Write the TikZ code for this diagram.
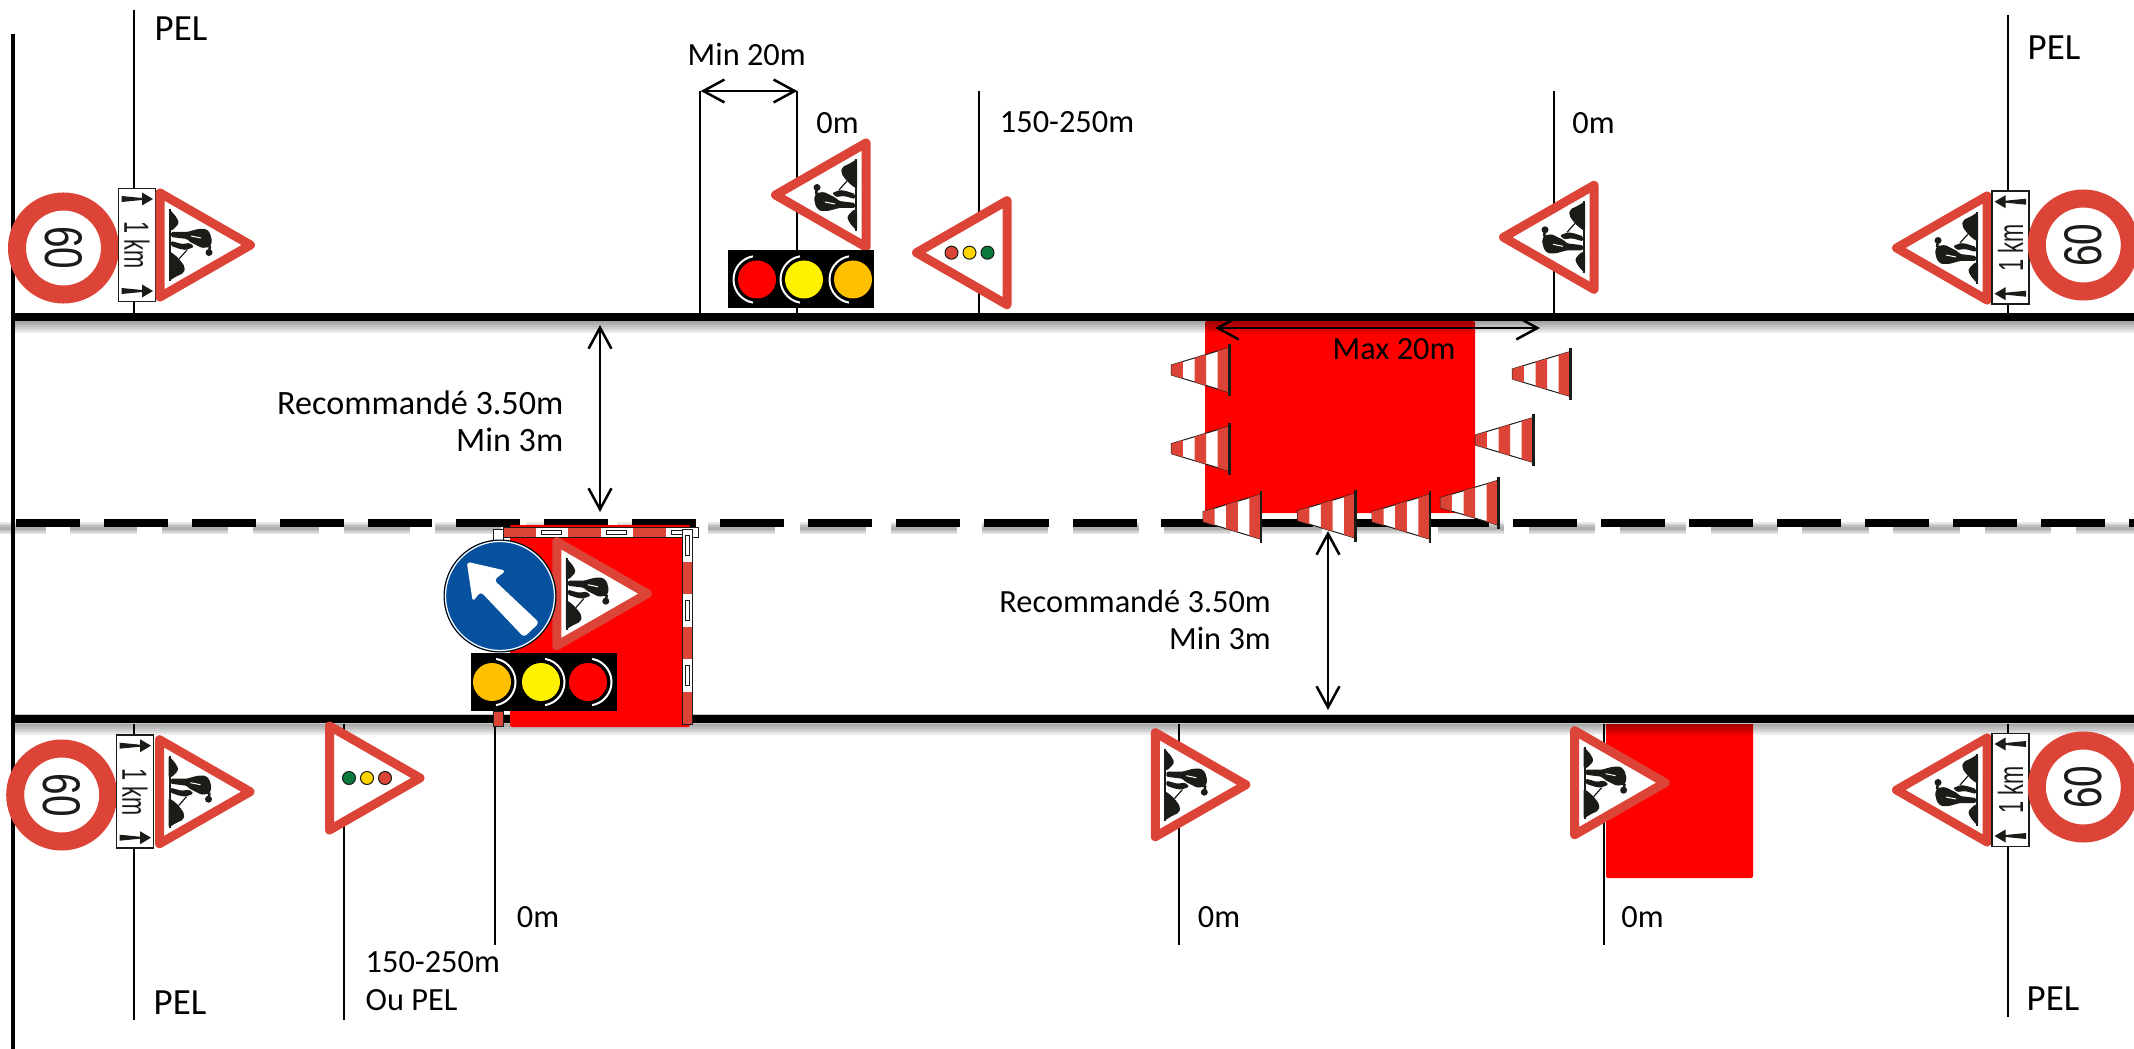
\documentclass[tikz,border=0pt]{standalone}
\usepackage{fontspec}
\setmainfont{Carlito}
\newfontfamily\roadfont{Liberation Sans}
\usetikzlibrary{arrows.meta}
\definecolor{signred}{HTML}{DC4437}
\definecolor{signblue}{HTML}{07519E}
\definecolor{ink}{HTML}{1A1C18}
\definecolor{amberlight}{HTML}{FFC000}
\definecolor{dotgreen}{HTML}{0A7A3C}
\definecolor{dotyellow}{HTML}{FFD500}
\def\px{0.2845pt}
\tikzset{
  lbl/.style={inner sep=0pt,font=\fontsize{9.2}{10.6}\selectfont},
  lblwide/.style={inner sep=0pt,font=\fontsize{9.7}{10.6}\selectfont},
  lblpel/.style={inner sep=0pt,font=\fontsize{10.5}{12}\selectfont},
  postline/.style={line width=2*\px,black},
  roadline/.style={line width=8*\px,black},
  dimarrow/.style={<->,>={Straight Barb[length=6pt,width=6.5pt]},line width=2.5*\px,black},
  signtri/.style={draw=signred,fill=white,line width=9*\px,line join=round},
  workarea/.style={fill=red,rounded corners=2*\px},
  pics/worksign/.style={code={
    \draw[signtri] (0,-52) -- (90.5,0) -- (0,52) -- cycle;
    \fill[ink] (9,-36) rectangle (11,36);
    \fill[ink,rounded corners=.6pt] (9,-36) -- (13,-32) -- (17,-27) -- (19,-22) -- (15,-17) -- (11,-14) -- (9,-14) -- cycle;
    \fill[ink,rounded corners=.6pt] (9,6) -- (15,10) -- (20,15) -- (25,22) -- (24,28) -- (17,31) -- (9,36) -- cycle;
    \fill[ink,rounded corners=.4pt] (11,-13) -- (27,-13) -- (38,-16) -- (46,-16) -- (50,-12) -- (52,-4) -- (50,2) -- (42,3) -- (36,0) -- (30,-3) -- (27,-6) -- (11,-8) -- cycle;
    \fill[ink,rounded corners=.4pt] (11,-4) -- (22,-1) -- (30,-2) -- (34,2) -- (26,5) -- (20,4) -- (11,1) -- cycle;
    \draw[white,line width=1*\px] (31,-9) -- (41,-7);
    \draw[ink,line width=1.2*\px] (27,5) -- (19,14);
    \draw[ink,line width=2.5*\px] (50,1) -- (49,7);
    \fill[ink] (49,7.5) circle[radius=3.5];
  }},
  pics/lightsign/.style={code={
    \draw[signtri] (0,-52) -- (90.5,0) -- (0,52) -- cycle;
    \foreach \dotx/\dotcol in {19.5/dotgreen,37.5/dotyellow,55.5/signred}
      \draw[fill=\dotcol,draw=ink,line width=1*\px] (\dotx,0) circle[radius=6.5];
  }},
  pics/speedsign/.style={code={
    \draw[draw=signred,fill=white,line width=18*\px] (0,0) circle[radius=46.5];
    \node[inner sep=0pt,rotate=-90,text=ink,font=\roadfont\fontsize{11}{11}\selectfont,transform shape] (-num) at (0,0) {\scalebox{1}[1.37]{60}};
  }},
  pics/kmpanel/.style={code={
    \draw[fill=white,draw=ink,line width=1.5*\px] (-18.5,-56.5) rectangle (18.5,56.5);
    \node[inner sep=0pt,rotate=-90,text=ink,font=\roadfont\fontsize{6.2}{6.2}\selectfont,transform shape] (-km) at (0,0) {\scalebox{1}[1.6]{1 km}};
    \foreach \arry in {-46,46}
      \fill[ink] (-15.5,\arry-3) -- (5,\arry-1) -- (5,\arry-6.5) -- (16,\arry) -- (5,\arry+6.5) -- (5,\arry+1) -- (-15.5,\arry+3) -- cycle;
  }},
  pics/lightbar/.style={code={
    \fill[black] (-73,-29) rectangle (73,29);
    \foreach \lampx/\lampcol in {-44/red,3/yellow,52/amberlight}{
      \fill[\lampcol] (\lampx,0) circle[radius=19];
      \draw[white,line width=2*\px] (\lampx,0) ++(100:23.5) arc[start angle=100,end angle=260,radius=23.5];
    }
  }},
  pics/cone/.style={code={
    \draw[fill=white,draw=ink,line width=1*\px] (-58,-5) -- (0,-22.5) -- (0,22.5) -- (-58,5) -- cycle;
    \fill[signred] (-58,-5) -- (-46.4,-8.5) -- (-46.4,8.5) -- (-58,5) -- cycle;
    \fill[signred] (-34.8,-12) -- (-23.2,-15.5) -- (-23.2,15.5) -- (-34.8,12) -- cycle;
    \fill[signred] (-11.6,-19) -- (0,-22.5) -- (0,22.5) -- (-11.6,19) -- cycle;
    \draw[ink,line width=2.5*\px] (0,-26) -- (0,26);
  }},
  pics/barrierstrip/.style={code={
    \foreach \cell/\cellcol in {0/signred,1/white,2/signred,3/white,4/signred,5/white}
      \fill[\cellcol] (\cell*32.5,-5) rectangle ++(32.5,10);
    \foreach \cell in {1,3,5}
      \draw[ink,line width=.8*\px] (\cell*32.5+6,-2) rectangle ++(20,4);
    \draw[ink,line width=1*\px] (0,-5) rectangle (195,5);
  }},
}
\begin{document}
\begin{tikzpicture}[x=0.01cm,y=-0.01cm]
\useasboundingbox (0,0) rectangle (2134,1049);
\clip (0,0) rectangle (2134,1049);

\fill[workarea] (1205,321) rectangle (1475,513);
\fill[workarea] (1606,715) rectangle (1753,878);

\foreach \name/\postx/\ya/\yb in {pelA/134/10/313,minA/700/91/313,zeroA/797/91/313,warnA/979/91/313,zeroB/1554/91/313,pelB/2008/15/313,pelC/134/723/1020,warnB/344/723/1020,zeroC/495/723/945,zeroD/1179/723/945,zeroE/1604/723/945,pelD/2008/715/1017}{
  \coordinate (\name a) at (\postx,\ya);
  \coordinate (\name b) at (\postx,\yb);
  \draw[postline] (\name a) -- (\name b);
}

\foreach \i in {1,...,6}{
  \fill[black,opacity=.07] (15,321) rectangle (2134,321+\i*2);
  \fill[black,opacity=.07] (15,723) rectangle (2134,723+\i*2);
}
\draw[gray!45,line width=10*\px] (15,719) -- (2134,719);
\foreach \w in {3,6,9,12}
  \draw[black,opacity=.09,line width=\w*\px,dash pattern=on 18.89pt off 7.03pt] (-20.8,528) -- (2134,528);
\coordinate (wallT) at (13,34);
\coordinate (wallB) at (13,1049);
\draw[line width=4*\px] (wallT) -- (wallB);
\coordinate (roadTa) at (13,317);
\coordinate (roadTb) at (2134,317);
\draw[roadline] (roadTa) -- (roadTb);
\coordinate (roadMa) at (16,523);
\coordinate (roadMb) at (2134,523);
\draw[roadline,dash pattern=on 18.208pt off 6.828pt] (roadMa) -- (roadMb);
\coordinate (roadBa) at (13,719);
\coordinate (roadBb) at (2134,719);
\draw[roadline] (roadBa) -- (roadBb);

\fill[signred] (493.3,711) rectangle (503.3,726);
\draw[ink,line width=1*\px] (493.3,711) rectangle (503.3,726);
\draw[fill=white,draw=ink,line width=1*\px] (493.3,529) rectangle (503.3,542);
\draw[fill=white,draw=ink,line width=1*\px] (688,527) rectangle (695,537);
\fill[workarea] (510,525) rectangle (690,727);
\pic at (503.3,532) {barrierstrip};
\pic[rotate=90] at (687,724) {barrierstrip};

\pic at (556.8,593.7) {worksign};
\draw[fill=signblue,draw=black,line width=1*\px] (500,596) circle[radius=56];
\draw[white,line width=1.2*\px] (500,596) circle[radius=54.5];
\fill[white,rounded corners=1pt] (466.7,561.7) -- (506,570.7) -- (494,580) -- (539.3,622.7) -- (524,637.3) -- (480.7,591.7) -- (472.7,601.7) -- cycle;
\pic[rotate=180,transform shape] at (544,682) {lightbar};

\pic[transform shape] (speedA) at (63.5,248) {speedsign};
\pic[transform shape] (kmA) at (137,245) {kmpanel};
\pic at (160,245) {worksign};
\pic[rotate=180] at (866,195) {worksign};
\pic[rotate=180] at (1007,252.7) {lightsign};
\pic[transform shape] at (801,279.5) {lightbar};
\pic[rotate=180] at (1594,237.3) {worksign};
\pic[rotate=180] at (1987,248) {worksign};
\pic[rotate=180,transform shape] (kmB) at (2010.5,247.7) {kmpanel};
\pic[rotate=180,transform shape] (speedB) at (2083.3,245) {speedsign};

\pic[transform shape] (speedC) at (61.7,795) {speedsign};
\pic[transform shape] (kmC) at (135,791.7) {kmpanel};
\pic at (159.5,791.7) {worksign};
\pic at (329.5,778) {lightsign};
\pic at (1155.3,784.7) {worksign};
\pic at (1574.6,782.7) {worksign};
\pic[rotate=180] at (1987,790) {worksign};
\pic[rotate=180,transform shape] (kmD) at (2010.5,790) {kmpanel};
\pic[rotate=180,transform shape] (speedD) at (2083.3,787) {speedsign};

\pic at (1229.3,370) {cone};
\pic at (1229.3,448.7) {cone};
\pic at (1570.3,374) {cone};
\pic at (1533.3,440) {cone};
\pic at (1498.3,502.7) {cone};
\pic at (1261,516.7) {cone};
\pic at (1355.7,515.7) {cone};
\pic at (1430,516.7) {cone};

\coordinate (minL) at (700.7,91);
\coordinate (minR) at (797.3,91);
\draw[dimarrow] (minL) -- (minR);
\coordinate (maxL) at (1215,328);
\coordinate (maxR) at (1540,328);
\draw[dimarrow] (maxL) -- (maxR);
\coordinate (widthAt) at (600,325);
\coordinate (widthAb) at (600,512);
\draw[dimarrow] (widthAt) -- (widthAb);
\coordinate (widthBt) at (1328,531);
\coordinate (widthBb) at (1328,710);
\draw[dimarrow] (widthBt) -- (widthBb);

\node[lblpel] (pelTL) at (181,29) {PEL};
\node[lblpel] (pelTR) at (2054,48) {PEL};
\node[lblpel] (pelBL) at (180,1003) {PEL};
\node[lblpel] (pelBR) at (2053,999) {PEL};
\node[lbl] (minT) at (746.7,54) {Min 20m};
\node[lbl] (maxT) at (1394,349) {Max 20m};
\node[lbl] (zeroT) at (837.5,122.7) {0m};
\node[lbl] (zeroTR) at (1593.5,122.7) {0m};
\node[lbl] (warnT) at (1067,122) {150-250m};
\node[lbl] (zeroBA) at (538,917) {0m};
\node[lbl] (zeroBB) at (1219,917) {0m};
\node[lbl] (zeroBC) at (1642.5,917) {0m};
\node[lbl,align=left,anchor=west] (warnBL) at (365,981) {150-250m\\Ou PEL};
\node[lblwide,align=right,anchor=east] (recoA) at (564,421.5) {Recommandé 3.50m\\Min 3m};
\node[lbl,align=right,anchor=east] (recoB) at (1271.5,620) {Recommandé 3.50m\\Min 3m};
\end{tikzpicture}
\end{document}
